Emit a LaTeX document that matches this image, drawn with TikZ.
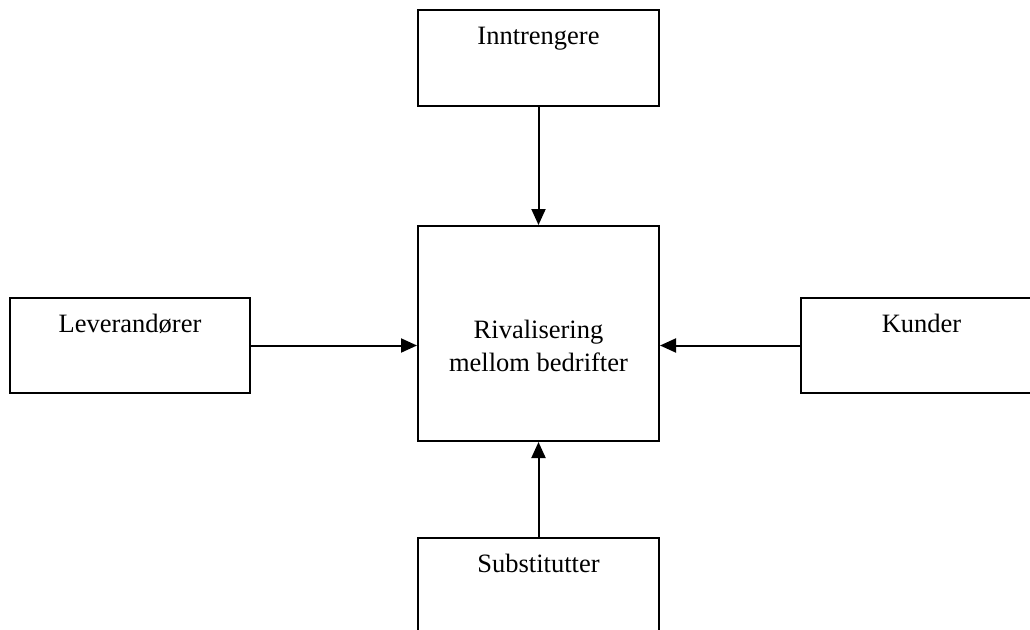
\documentclass[tikz,border=0pt]{standalone}
\usepackage{fontspec}
\setmainfont{Liberation Serif}
\usetikzlibrary{arrows.meta,calc}
\tikzset{
  forcebox/.style={draw=black, line width=2pt, rectangle, inner sep=0pt},
  txt/.style={anchor=base, inner sep=0pt, font=\fontsize{26.5}{31}\selectfont},
  force/.style={line width=2pt, -{Triangle[length=16pt,width=14pt]}},
}
\begin{document}
\begin{tikzpicture}[x=1pt,y=-1pt]
  \useasboundingbox (0,0) rectangle (1030,629);
  % boxes for the five forces
  \node[forcebox, minimum width=241pt, minimum height=96pt]  (ent)  at (538.5,58)    {};
  \node[forcebox, minimum width=241pt, minimum height=215pt] (riv)  at (538.5,333.5) {};
  \node[forcebox, minimum width=240pt, minimum height=95pt]  (sup)  at (130,345.5)   {};
  \node[forcebox, minimum width=241pt, minimum height=95pt]  (cust) at (921.5,345.5) {};
  \node[forcebox, minimum width=241pt, minimum height=96pt]  (subs) at (538.5,586)   {};
  % labels
  \node[txt] (entT)  at ([yshift=-35pt]ent.north)  {Inntrengere};
  \node[txt] (supT)  at ([yshift=-35pt]sup.north)  {Leverandører};
  \node[txt] (custT) at ([yshift=-35pt]cust.north) {Kunder};
  \node[txt] (subsT) at ([yshift=-35pt]subs.north) {Substitutter};
  \node[txt] (rivA)  at (538.5,338) {Rivalisering};
  \node[txt] (rivB)  at (538.5,371) {mellom bedrifter};
  % arrows towards the rivalry box
  \draw[force] (ent.south) -- (riv.north);
  \draw[force] (subs.north) -- (riv.south);
  \draw[force] (sup.east) -- (sup.east -| riv.west);
  \draw[force] (cust.west) -- (cust.west -| riv.east);
\end{tikzpicture}
\end{document}
